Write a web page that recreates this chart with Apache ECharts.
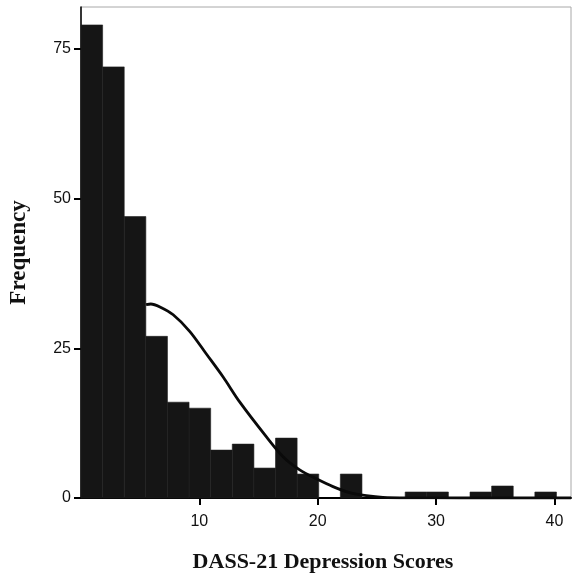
<!DOCTYPE html>
<html>
<head>
<meta charset="utf-8">
<script src="https://cdn.jsdelivr.net/npm/echarts@6/dist/echarts.min.js"></script>
<style>
  html, body { margin: 0; padding: 0; background: #fff; }
  #chart { width: 575px; height: 578px; }
</style>
</head>
<body>
<div id="chart"></div>
<script>
// Histogram of DASS-21 depression scores with a fitted normal curve
const binWidth = 1.826;
const counts = [79, 72, 47, 27, 16, 15, 8, 9, 5, 10, 4, 0, 4, 0, 0, 1, 1, 0, 1, 2, 0, 1, 0];

// Normal curve, sampled along its visible path
const curveX = [5.5, 5.9, 6.67, 7.79, 9.2, 10.61, 12.01, 13.42, 15.67, 17.07, 18.48, 19.89, 21.29, 22.7, 24.11, 25.51, 28, 32, 41.4];
const curveY = [32.3, 32.4, 31.9, 30.6, 27.8, 24.0, 20.2, 16.0, 10.2, 6.9, 4.7, 3.2, 1.9, 0.9, 0.4, 0.12, 0.03, 0, 0];

const xTickLabels = [10, 20, 30, 40];
const yTickLabels = [0, 25, 50, 75];

const barData = counts.map((c, i) => [i * binWidth, (i + 1) * binWidth, c]).filter(d => d[2] > 0);
const curveData = curveX.map((x, i) => [x, curveY[i]]);

const chart = echarts.init(document.getElementById('chart'), null, { renderer: 'canvas' });

chart.setOption({
  animation: false,
  backgroundColor: '#fff',
  grid: {
    left: 81, top: 7, right: 4, bottom: 80,
    outerBoundsMode: 'none', containLabel: false,
    show: true, borderColor: '#a8a8a8', borderWidth: 1, backgroundColor: 'transparent'
  },
  title: [{
    text: 'DASS-21 Depression Scores',
    left: 318, top: 546, textAlign: 'center',
    textStyle: { fontFamily: 'Liberation Serif', fontWeight: 'bold', fontSize: 22, color: '#111' }
  }],
  xAxis: {
    type: 'value', min: 0, max: 41.4, interval: 10,
    splitLine: { show: false },
    axisLine: { show: true, lineStyle: { color: '#000', width: 2 } },
    axisTick: { show: true, length: 7, customValues: xTickLabels, lineStyle: { color: '#000', width: 2 } },
    axisLabel: {
      margin: 16, color: '#111', fontFamily: 'Liberation Sans', fontSize: 16,
      customValues: xTickLabels
    }
  },
  yAxis: {
    type: 'value', min: 0, max: 82, interval: 25,
    name: 'Frequency', nameLocation: 'middle', nameGap: 50, nameRotate: 90,
    nameTextStyle: { fontFamily: 'Liberation Serif', fontWeight: 'bold', fontSize: 23, color: '#111' },
    splitLine: { show: false },
    axisLine: { show: true, lineStyle: { color: '#000', width: 1.5 } },
    axisTick: { show: true, length: 7, customValues: yTickLabels, lineStyle: { color: '#000', width: 2 } },
    axisLabel: {
      margin: 10, color: '#111', fontFamily: 'Liberation Sans', fontSize: 16,
      customValues: yTickLabels
    }
  },
  series: [
    {
      type: 'custom',
      data: barData,
      encode: { x: [0, 1], y: 2 },
      z: 2,
      renderItem: (params, api) => {
        const p0 = api.coord([api.value(0), api.value(2)]);
        const p1 = api.coord([api.value(1), 0]);
        return {
          type: 'rect',
          shape: { x: p0[0], y: p0[1], width: p1[0] - p0[0], height: p1[1] - p0[1] },
          style: { fill: '#151515', stroke: '#1f1f1f', lineWidth: 0.6 }
        };
      }
    },
    {
      type: 'line',
      data: curveData,
      smooth: 0.3,
      showSymbol: false,
      z: 3,
      lineStyle: { color: '#0a0a0a', width: 2.8 }
    }
  ]
});
</script>
</body>
</html>
